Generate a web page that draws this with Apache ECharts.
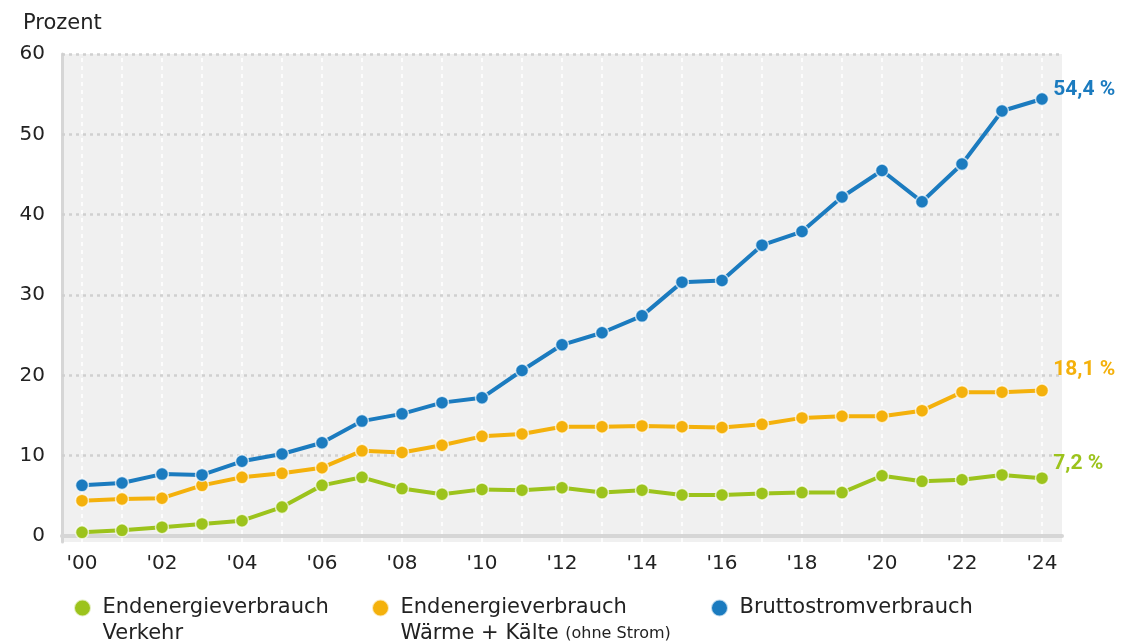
<!DOCTYPE html>
<html>
<head>
<meta charset="utf-8">
<script src="https://cdn.jsdelivr.net/npm/echarts@6/dist/echarts.min.js"></script>
<style>
html,body{margin:0;padding:0;background:#fff;}
#chart{width:1137px;height:643px;}
</style>
</head>
<body>
<div id="chart"></div>
<script>
const years = ["'00","'01","'02","'03","'04","'05","'06","'07","'08","'09","'10","'11","'12","'13","'14","'15","'16","'17","'18","'19","'20","'21","'22","'23","'24"];
const yTicks = [0, 10, 20, 30, 40, 50, 60];
const seriesNames = ["Endenergieverbrauch Verkehr", "Endenergieverbrauch Wärme + Kälte (ohne Strom)", "Bruttostromverbrauch"];
const verkehr = [0.45, 0.7, 1.1, 1.5, 1.9, 3.6, 6.3, 7.3, 5.9, 5.2, 5.8, 5.7, 6.0, 5.4, 5.7, 5.1, 5.1, 5.3, 5.4, 5.4, 7.5, 6.8, 7.0, 7.6, 7.2];
const waerme = [4.4, 4.6, 4.7, 6.3, 7.3, 7.8, 8.5, 10.6, 10.4, 11.3, 12.4, 12.7, 13.6, 13.6, 13.7, 13.6, 13.5, 13.9, 14.7, 14.9, 14.9, 15.6, 17.9, 17.9, 18.1];
const strom = [6.3, 6.6, 7.7, 7.6, 9.3, 10.2, 11.6, 14.3, 15.2, 16.6, 17.2, 20.6, 23.8, 25.3, 27.4, 31.6, 31.8, 36.2, 37.9, 42.2, 45.5, 41.6, 46.3, 52.9, 54.4];
const endLabels = ["7,2 %", "18,1 %", "54,4 %"];
const colors = ["#9cc31c", "#f4b10c", "#1b7bbf"];

const FONT = "'DejaVu Sans', sans-serif";
const LFONT = "Roboto, sans-serif";
const chart = echarts.init(document.getElementById('chart'), null, {renderer: 'canvas'});

function lineSeries(idx, data, labelOffset) {
  const last = data.length - 1;
  return {
    name: seriesNames[idx],
    type: 'line',
    data: data.map((v, i) => i === last ? {
      value: v,
      label: {
        show: true, position: 'right', offset: labelOffset,
        formatter: endLabels[idx], color: colors[idx],
        fontFamily: LFONT, fontWeight: 'bold', fontSize: 21
      }
    } : v),
    color: colors[idx],
    symbol: 'circle',
    symbolSize: 13,
    showSymbol: true,
    lineStyle: {width: 4, color: colors[idx]},
    itemStyle: {color: colors[idx], borderColor: 'rgba(255,255,255,0.7)', borderWidth: 1.5},
    z: 5 + idx,
    animation: false
  };
}

const gridSeries = {
  name: '_grid',
  type: 'line',
  data: [],
  silent: true,
  z: 1,
  markLine: {
    silent: true, symbol: 'none', animation: false,
    label: {show: false},
    data: [
      ...yTicks.filter(v => v > 0).map(v => ({yAxis: v, lineStyle: {color: '#d0d0d0', type: [3, 4], width: 2.5}})),
      ...years.map(y => ({xAxis: y, lineStyle: {color: '#ffffff', type: [4, 4], width: 1.5}}))
    ]
  }
};

const legendFmt = {
  [seriesNames[0]]: '\n{a|Endenergieverbrauch}\n{a|Verkehr}',
  [seriesNames[1]]: '\n{a|Endenergieverbrauch}\n{a|Wärme + Kälte} {s|(ohne Strom)}',
  [seriesNames[2]]: '\n{a|Bruttostromverbrauch}\n{a| }'
};
function legendCfg(name, left) {
  return {
    data: [{name: name, icon: 'circle'}],
    left: left, top: 569, padding: 0,
    itemWidth: 30, itemHeight: 17,
    selectedMode: false,
    formatter: n => legendFmt[n],
    textStyle: {
      fontFamily: FONT, fontSize: 21, color: '#222', lineHeight: 26,
      rich: {
        a: {fontFamily: FONT, fontSize: 21, color: '#222', lineHeight: 26},
        s: {fontFamily: FONT, fontSize: 16, color: '#222', lineHeight: 26}
      }
    }
  };
}

chart.setOption({
  backgroundColor: '#ffffff',
  animation: false,
  title: {
    text: 'Prozent', left: 18, top: 8,
    textStyle: {fontFamily: FONT, fontSize: 21, fontWeight: 'normal', color: '#222'}
  },
  legend: [
    legendCfg(seriesNames[0], 73),
    legendCfg(seriesNames[1], 371),
    legendCfg(seriesNames[2], 710)
  ],
  grid: {
    left: 62, right: 75, top: 54, bottom: 101,
    show: true, backgroundColor: '#f0f0f0', borderWidth: 0
  },
  xAxis: {
    type: 'category',
    data: years,
    boundaryGap: true,
    axisLine: {show: true, lineStyle: {color: '#d6d6d6', width: 4}},
    axisTick: {show: false},
    splitLine: {show: false},
    axisLabel: {
      interval: 1, margin: 12,
      fontFamily: FONT, fontSize: 20, color: '#222'
    }
  },
  yAxis: {
    type: 'value',
    min: -0.75, max: 60,
    axisLine: {show: true, lineStyle: {color: '#d6d6d6', width: 3}},
    axisTick: {show: false},
    splitLine: {show: false},
    axisLabel: {
      customValues: yTicks,
      margin: 17,
      fontFamily: FONT, fontSize: 20, color: '#222'
    }
  },
  series: [
    gridSeries,
    lineSeries(0, verkehr, [-1, -14]),
    lineSeries(1, waerme, [-1, -21]),
    lineSeries(2, strom, [-1, -9])
  ]
});
</script>
</body>
</html>
